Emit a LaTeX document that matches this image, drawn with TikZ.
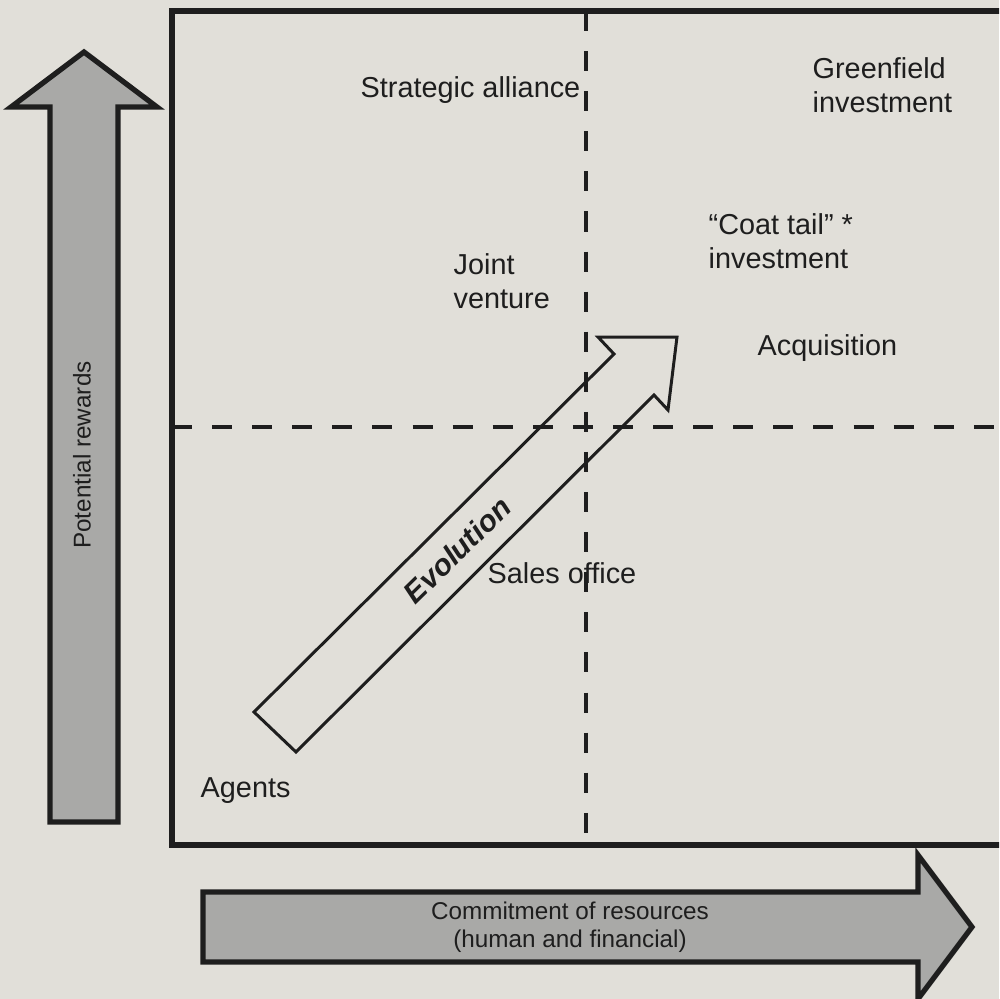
\documentclass[tikz,border=0pt]{standalone}
\usepackage{fontspec}
\setmainfont{Liberation Sans}
\usepackage{xcolor}
\usepackage{tikz}
\definecolor{PaperGrey}{HTML}{E1DFD9}
\definecolor{ArrowGrey}{HTML}{A9A9A7}
\definecolor{InkBlack}{HTML}{1E1E1E}

\tikzset{
	entry/.style={font=\fontsize{8.2}{9.4}\selectfont, text=InkBlack, inner sep=0pt, align=left, anchor=base west},
	axislabel/.style={font=\fontsize{6.9}{7.8}\selectfont, text=InkBlack, inner sep=0pt, align=center},
	bigarrow/.style={draw=InkBlack, fill=ArrowGrey, line width=1.5pt, line join=miter},
	quadline/.style={draw=InkBlack, line width=1.1pt, dash pattern=on 5.7pt off 5.7pt},
}

\begin{document}
\begin{tikzpicture}[x=0.01cm, y=-0.01cm]
			\useasboundingbox (0,0) rectangle (999,999);
			\clip (0,0) rectangle (999,999);
			\fill[PaperGrey] (0,0) rectangle (999,999);

			% frame and quadrants
			\draw[InkBlack, line width=1.5pt] (172,11) rectangle (1020,845);
			\draw[quadline] (586,11) -- (586,845);
			\draw[quadline] (172,427) -- (999,427);

			% potential rewards
			\draw[bigarrow] (50,822) -- (50,107) -- (11,107) -- (84,52) -- (157,107) -- (118,107) -- (118,822) -- cycle;
			\node[axislabel, rotate=90] (rewards) at (82,455) {Potential rewards};

			% commitment of resources
			\draw[bigarrow] (203,892) -- (918,892) -- (918,855) -- (972,927) -- (918,999) -- (918,962) -- (203,962) -- cycle;
			\node[axislabel] (commitment) at (570,927) {Commitment of resources\\(human and financial)};

			% evolution
			\draw[InkBlack, line width=.85pt, line join=miter] (254,712) -- (614,354) -- (598,337) -- (677,337) -- (668,410) -- (654,395) -- (296,752) -- cycle;
			\node[font=\fontsize{8.5}{10}\selectfont\bfseries\itshape, text=InkBlack, rotate=44.5] (evolution) at (457,550) {Evolution};

			% entry modes (base = last line)
			\node[entry] (alliance) at (360,97) {Strategic alliance};
			\node[entry] (greenfield) at (812,112) {Greenfield\\investment};
			\node[entry] (jointventure) at (453,308) {Joint\\venture};
			\node[entry] (coattail) at (708,268) {``Coat tail'' *\\investment};
			\node[entry] (acquisition) at (757,355) {Acquisition};
			\node[entry] (salesoffice) at (487,583) {Sales office};
			\node[entry] (agents) at (200,797) {Agents};

		\end{tikzpicture}
\end{document}
